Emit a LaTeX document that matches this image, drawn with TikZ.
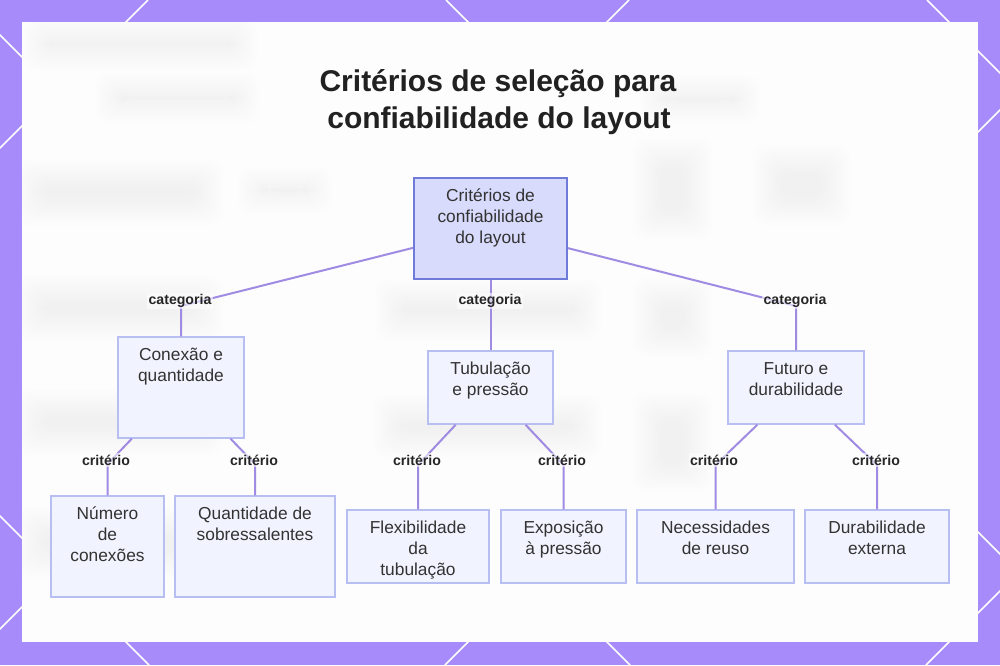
\documentclass[tikz,border=0pt]{standalone}
\usepackage{fontspec}
\setmainfont{Liberation Sans}
\definecolor{bgpurple}{HTML}{A78BFA}
\definecolor{panel}{HTML}{FDFDFD}
\definecolor{edgec}{HTML}{A08BE3}
\definecolor{rootfill}{HTML}{D8DBFC}
\definecolor{rootdraw}{HTML}{6F7AD9}
\definecolor{boxfill}{HTML}{F1F3FE}
\definecolor{boxdraw}{HTML}{B7BEF1}
\definecolor{txt}{HTML}{333333}
\newcommand{\bxt}[3]{\parbox[c][\dimexpr #2pt*3/4\relax][t]{\dimexpr #1pt*3/4\relax}{\centering\fontsize{13}{15.75}\selectfont\rule{0pt}{17.25pt}#3}}
\newcommand{\softblob}[4]{\foreach \i in {-4,...,7} {\fill[black, opacity=0.0045, rounded corners=10pt] ({#1-\i*2.5},{#2-\i*2.5}) rectangle ({#3+\i*2.5},{#4+\i*2.5});}}
\tikzset{
  rootbox/.style={draw=rootdraw, fill=rootfill, line width=1.5pt, inner sep=0pt, text=txt},
  tbox/.style={draw=boxdraw, fill=boxfill, line width=1.1pt, inner sep=0pt, text=txt},
  conn/.style={draw=edgec, line width=1.5pt},
  elabel/.style={font=\bfseries\fontsize{10.6}{12}\selectfont, text=black!85, fill=panel, fill opacity=0.6, text opacity=1, inner sep=1pt},
  titletext/.style={font=\bfseries\fontsize{22.5}{27}\selectfont, text=black!87, inner sep=0pt},
  gridline/.style={draw=white, line width=1.2pt}
}
\begin{document}
\begin{tikzpicture}[x=0.75pt,y=-0.75pt]
\useasboundingbox (0,0) rectangle (1000,665);
\fill[bgpurple] (0,0) rectangle (1000,665);
\begin{scope}
  \clip (0,0) rectangle (1000,665);
  \foreach \c in {148,629,1110,1591} \draw[gridline] (\c,0) -- ({\c-665},665);
  \foreach \c in {-997,-516,-35,446,927} \draw[gridline] (\c,0) -- ({\c+665},665);
\end{scope}
\fill[panel] (22,22) rectangle (978,642);

% faint blurred background
\begin{scope}
  \clip (22,22) rectangle (978,642);
  \softblob{40}{34}{240}{53}
  \softblob{112}{90}{243}{106}
  \softblob{657}{92}{743}{106}
  \softblob{32}{176}{206}{208}
  \softblob{255}{184}{315}{196}
  \softblob{650}{155}{695}{222}
  \softblob{770}{162}{833}{208}
  \softblob{32}{292}{206}{324}
  \softblob{392}{296}{584}{324}
  \softblob{650}{295}{695}{340}
  \softblob{32}{406}{206}{438}
  \softblob{390}{412}{584}{441}
  \softblob{650}{410}{695}{475}
  \softblob{32}{524}{196}{561}
\end{scope}

% title
\node[titletext, anchor=base] (t1) at (498,91) {Critérios de seleção para};
\node[titletext, anchor=base] (t2) at (499,128) {confiabilidade do layout};

% nodes
\node[rootbox] (root) at (490.5,228.5) {\bxt{153}{101}{Critérios de\\confiabilidade\\do layout}};
\node[tbox] (c1) at (181,387.5) {\bxt{126}{101}{Conexão e\\quantidade}};
\node[tbox] (c2) at (490.5,387.5) {\bxt{125}{73}{Tubulação\\e pressão}};
\node[tbox] (c3) at (796,387.5) {\bxt{136}{73}{Futuro e\\durabilidade}};
\node[tbox] (l1) at (107.5,546.5) {\bxt{113}{101}{Número\\de\\conexões}};
\node[tbox] (l2) at (255,546.5) {\bxt{160}{101}{Quantidade de\\sobressalentes}};
\node[tbox] (l3) at (418,546.5) {\bxt{142}{73}{Flexibilidade\\da\\tubulação}};
\node[tbox] (l4) at (563.5,546.5) {\bxt{125}{73}{Exposição\\à pressão}};
\node[tbox] (l5) at (715.5,546.5) {\bxt{157}{73}{Necessidades\\de reuso}};
\node[tbox] (l6) at (877,546.5) {\bxt{144}{73}{Durabilidade\\externa}};

% bend points
\coordinate (k1) at (181,306);
\coordinate (k3) at (796,306);
\coordinate (q1) at (107.5,464);
\coordinate (q2) at (255,464);
\coordinate (q3) at (418,465);
\coordinate (q4) at (563.5,465);
\coordinate (q5) at (715.5,465);
\coordinate (q6) at (877,465);

% connectors
\draw[conn] (root) -- (k1) -- (c1);
\draw[conn] (root) -- (c2);
\draw[conn] (root) -- (k3) -- (c3);
\draw[conn] (c1) -- (q1) -- (l1);
\draw[conn] (c1) -- (q2) -- (l2);
\draw[conn] (c2) -- (q3) -- (l3);
\draw[conn] (c2) -- (q4) -- (l4);
\draw[conn] (c3) -- (q5) -- (l5);
\draw[conn] (c3) -- (q6) -- (l6);

% labels
\node[elabel] (e1) at (180,301) {categoria};
\node[elabel] (e2) at (490,301) {categoria};
\node[elabel] (e3) at (795,301) {categoria};
\node[elabel] (f1) at (106,460) {critério};
\node[elabel] (f2) at (254,460) {critério};
\node[elabel] (f3) at (417,460) {critério};
\node[elabel] (f4) at (562,460) {critério};
\node[elabel] (f5) at (714,460) {critério};
\node[elabel] (f6) at (876,460) {critério};
\end{tikzpicture}
\end{document}
